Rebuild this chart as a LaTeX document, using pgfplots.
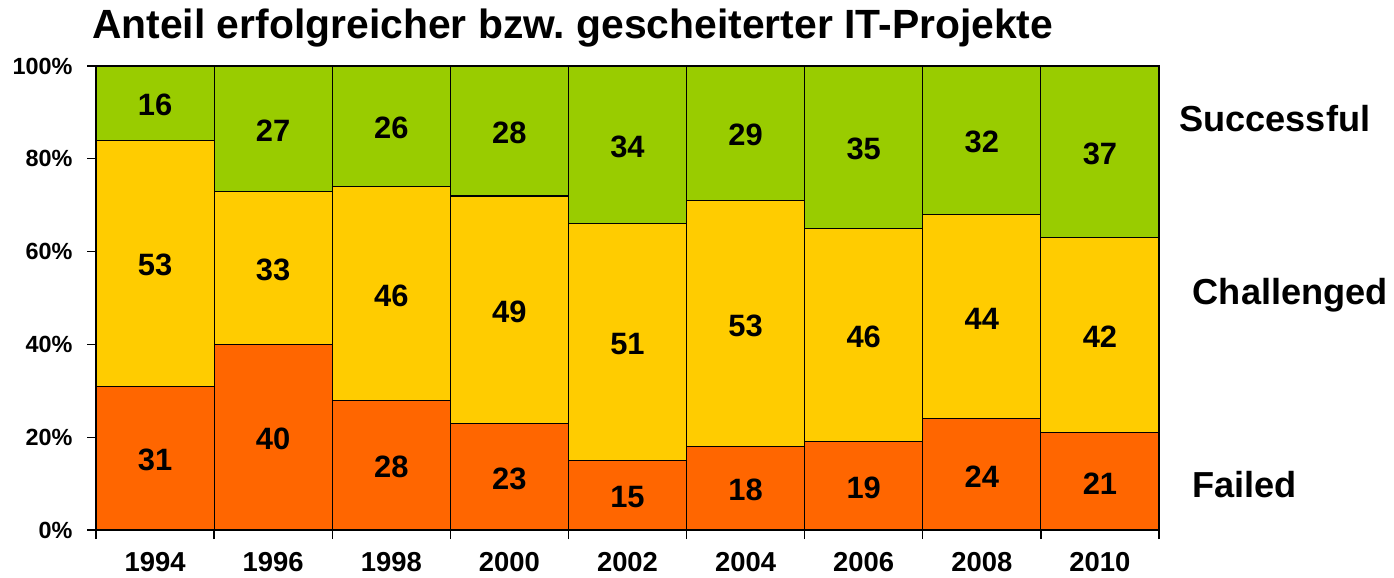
\documentclass[border=0pt]{standalone}
\usepackage{pgfplots}
\pgfplotsset{compat=1.18}
\usepackage{pgfplotstable}
\usepackage{fontspec}
\setmainfont{Liberation Sans}
\frenchspacing
\definecolor{failed}{HTML}{FF6600}
\definecolor{chall}{HTML}{FFCC00}
\definecolor{succ}{HTML}{99CC00}
\pgfplotstableread{
x f c s
0 31 53 16
1 40 33 27
2 28 46 26
3 23 49 28
4 15 51 34
5 18 53 29
6 19 46 35
7 24 44 32
8 21 42 37
}\data
\begin{document}
\begin{tikzpicture}
\pgfplotsset{base/.style={width=1063bp,height=464bp,scale only axis,xmin=-0.5,xmax=8.5,ymin=0,ymax=100,clip=false}}
\begin{axis}[base, ybar stacked, bar width=1,
  axis x line*=bottom, axis y line*=left,
  axis line style={line width=1.3bp, black},
  xtick={0,...,8},
  xticklabels={1994,1996,1998,2000,2002,2004,2006,2008,2010},
  major x tick style={draw=none},
  minor xtick={-0.5,0.5,...,8.5},
  minor tick length=9bp, major tick length=9bp,
  tick align=outside,
  tick style={line width=1.3bp, black},
  ytick={0,20,...,100},
  yticklabels={0\%,20\%,40\%,60\%,80\%,100\%},
  xticklabel style={font=\bfseries\fontsize{27.5}{27.5}\selectfont, yshift=-10bp},
  yticklabel style={font=\bfseries\fontsize{23.5}{23.5}\selectfont, xshift=-11bp},
]
\addplot[fill=failed, draw=black, line width=1.2bp] table[x=x,y=f] \data;
\addplot[fill=chall, draw=black, line width=1.2bp] table[x=x,y=c] \data;
\addplot[fill=succ, draw=black, line width=1.2bp] table[x=x,y=s] \data;
\coordinate (SW) at (rel axis cs:0,0);
\coordinate (NE) at (rel axis cs:1,1);
\node[anchor=base west, font=\bfseries\fontsize{41}{41}\selectfont, inner sep=0pt] at ([shift={(-4bp,27bp)}]rel axis cs:0,1) {Anteil erfolgreicher bzw. gescheiterter IT-Projekte};
\end{axis}
\begin{axis}[base, hide axis,
  every node near coord/.append style={anchor=center, yshift=-2bp, font=\bfseries\fontsize{31}{31}\selectfont, text=black},
]
\addplot[draw=none, mark=none, nodes near coords, point meta=explicit symbolic] table[x=x, y expr=\thisrow{f}/2, meta=f] \data;
\addplot[draw=none, mark=none, nodes near coords, point meta=explicit symbolic] table[x=x, y expr=\thisrow{f}+\thisrow{c}/2, meta=c] \data;
\addplot[draw=none, mark=none, nodes near coords, point meta=explicit symbolic] table[x=x, y expr=\thisrow{f}+\thisrow{c}+\thisrow{s}/2, meta=s] \data;
\node[anchor=base west, font=\bfseries\fontsize{36.3}{36.3}\selectfont, inner sep=0pt] at (axis cs:8.67,85.8) {Successful};
\node[anchor=base west, font=\bfseries\fontsize{36.3}{36.3}\selectfont, inner sep=0pt] at (axis cs:8.785,48.5) {Challenged};
\node[anchor=base west, font=\bfseries\fontsize{36.3}{36.3}\selectfont, inner sep=0pt] at (axis cs:8.78,7.1) {Failed};
\end{axis}
\pgfresetboundingbox
\path ([shift={(-96bp,-47bp)}]SW) rectangle ([shift={(235bp,66bp)}]NE);
\end{tikzpicture}
\end{document}
